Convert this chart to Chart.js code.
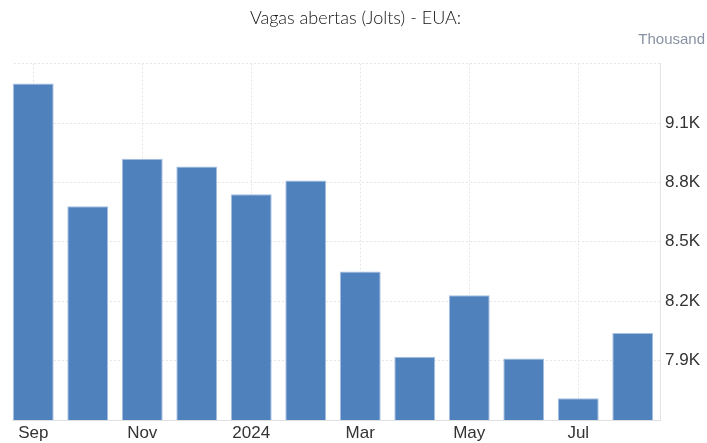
<!DOCTYPE html>
<html>
<head>
<meta charset="utf-8">
<script src="https://cdn.jsdelivr.net/npm/chart.js@4"></script>
<style>
  html, body { margin: 0; padding: 0; background: #ffffff; }
  #wrap { width: 707px; height: 443px; }
</style>
</head>
<body>
<div id="wrap"><canvas id="c" width="707" height="443"></canvas></div>
<script>
const categories = ['Sep 2023','Oct 2023','Nov 2023','Dec 2023','Jan 2024','Feb 2024','Mar 2024','Apr 2024','May 2024','Jun 2024','Jul 2024','Aug 2024'];
const tickLabels = ['Sep','','Nov','','2024','','Mar','','May','','Jul',''];
const openings = [9.30, 8.68, 8.92, 8.88, 8.74, 8.81, 8.35, 7.92, 8.23, 7.91, 7.71, 8.04];
const titleText = 'Vagas abertas (Jolts) - EUA:';
const unitText = 'Thousand';

// Plot background starts at the first bar's left edge (as in the reference)
const leftMask = {
  id: 'leftMask',
  beforeDatasetsDraw(chart) {
    const meta = chart.getDatasetMeta(0);
    const first = meta.data[0];
    if (!first) return;
    const edge = Math.floor(first.x - first.width / 2);
    const ctx = chart.ctx;
    ctx.save();
    ctx.fillStyle = '#ffffff';
    ctx.fillRect(0, chart.chartArea.top - 2, edge, chart.chartArea.bottom - chart.chartArea.top + 4);
    ctx.restore();
  }
};

new Chart(document.getElementById('c'), {
  type: 'bar',
  data: {
    labels: categories,
    datasets: [{
      data: openings,
      backgroundColor: '#4f81bd',
      borderColor: '#a6c0e2',
      borderWidth: 1,
      barPercentage: 0.75,
      categoryPercentage: 1.0
    }]
  },
  plugins: [leftMask],
  options: {
    responsive: false,
    animation: false,
    devicePixelRatio: 1,
    layout: { padding: { left: 6, right: 2, top: 0, bottom: 0 } },
    plugins: {
      legend: { display: false },
      tooltip: { enabled: false },
      title: {
        display: true,
        text: titleText,
        color: '#111111',
        font: { family: 'Lato', weight: 300, size: 18, lineHeight: 1.2 },
        padding: { top: 7, bottom: 4 }
      },
      subtitle: {
        display: true,
        text: unitText,
        align: 'end',
        color: '#8793a3',
        font: { family: 'Liberation Sans, Arial', size: 15, lineHeight: 1.0 },
        padding: { top: 0, bottom: 16 }
      }
    },
    scales: {
      x: {
        offset: true,
        grid: {
          offset: false,
          drawTicks: false,
          color: (ctx) => (ctx.index % 2 === 0 ? '#e6e6e6' : 'rgba(0,0,0,0)')
        },
        border: { display: true, color: '#e0e0e0', dash: [2, 2] },
        ticks: {
          autoSkip: false,
          maxRotation: 0,
          minRotation: 0,
          padding: 3,
          color: '#333333',
          font: { family: 'Liberation Sans, Arial', size: 17 },
          callback: (v, i) => tickLabels[i]
        },
        afterFit: (s) => { s.height = 23; }
      },
      y: {
        position: 'right',
        min: 7.6,
        max: 9.4,
        grid: {
          drawTicks: false,
          color: '#e6e6e6'
        },
        border: { display: true, color: '#e3e3e3', dash: [2, 2] },
        ticks: {
          stepSize: 0.3,
          padding: 5,
          color: '#333333',
          font: { family: 'Liberation Sans, Arial', size: 17 },
          callback: (v) => {
            const r = Math.round(v * 10) / 10;
            if (r <= 7.6 || r >= 9.4) return '';
            return r.toFixed(1) + 'K';
          }
        },
        afterFit: (s) => { s.width = 45; }
      }
    }
  }
});
</script>
</body>
</html>
